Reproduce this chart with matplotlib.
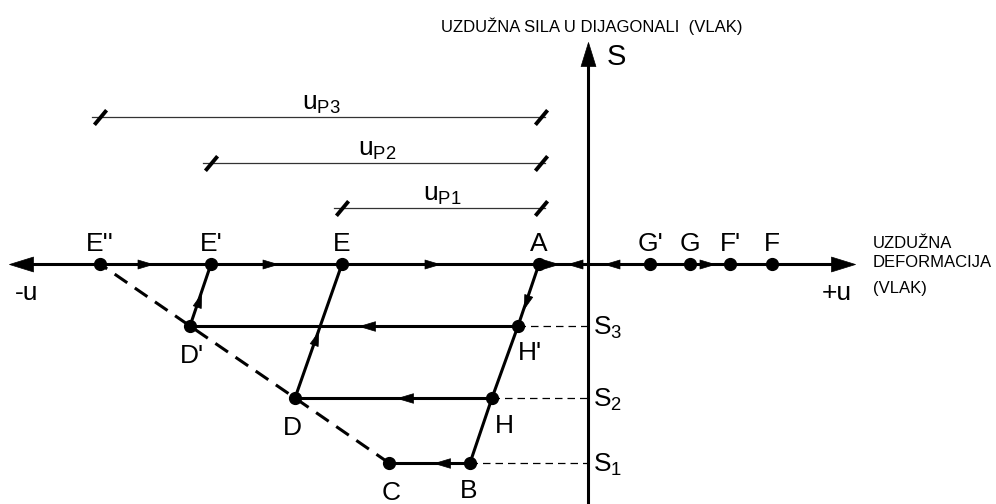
import numpy as np
import matplotlib
matplotlib.use("Agg")
import matplotlib.pyplot as plt
from matplotlib.path import Path

plt.rcParams['font.family'] = ['Liberation Sans', 'DejaVu Sans']
plt.rcParams['mathtext.fontset'] = 'custom'
plt.rcParams['mathtext.rm'] = 'Liberation Sans'
plt.rcParams['mathtext.it'] = 'Liberation Sans'

# points on the u axis (deformation), S = 0
axis_labels = ["E''", "E'", "E", "A", "G'", "G", "F'", "F"]
axis_u = [-48.8, -37.7, -24.6, -4.9, 6.2, 10.2, 14.2, 18.4]

# force levels S1, S2, S3
S_levels = [-19.9, -13.4, -6.2]
S_names = ["1", "2", "3"]

# unloading branch A -> H' -> H -> B
branch_u = [-4.9, -7.0, -9.6, -11.8]
branch_S = [0.0, -6.2, -13.4, -19.9]

# buckling envelope C -> D -> D' -> E''
env_u = [-19.9, -29.3, -39.8, -48.8]
env_S = [-19.9, -13.4, -6.2, 0.0]

# plastic elongations u_P1..u_P3 (from A to E, E', E'')
up_left = [-24.6, -37.7, -48.8]
up_right = -4.9
up_S = [5.6, 10.1, 14.7]
up_text_u = [-16.5, -23.0, -28.6]

# axis extent
u_min, u_max = -57.9, 26.7
S_min, S_max = -24.0, 22.2

fig = plt.figure(figsize=(9.96, 5.04), dpi=100)
ax = fig.add_axes([0, 0, 1, 1])
ax.set_xlim(-58.8, 40.8)
ax.set_ylim(-24.0, 26.4)
ax.axis('off')

LW = 2.2
PX = 0.1  # data units per pixel


def tri_marker(angle, w=0.65):
    verts = np.array([[1.0, 0.0], [-1.0, w], [-1.0, -w], [1.0, 0.0]])
    c, s = np.cos(np.radians(angle)), np.sin(np.radians(angle))
    rot = verts @ np.array([[c, s], [-s, c]])
    return Path(rot, [Path.MOVETO, Path.LINETO, Path.LINETO, Path.CLOSEPOLY])


def head(u, s, angle, length_px, w=0.65):
    ax.plot(u, s, marker=tri_marker(angle, w), ms=length_px / 1.389,
            color='k', mec='k', mew=0.5, ls='none', zorder=5)


def head_on(p0, p1, frac, length_px=16):
    p0, p1 = np.array(p0), np.array(p1)
    d = p1 - p0
    ang = np.degrees(np.arctan2(d[1], d[0]))
    p = p0 + frac * d
    head(p[0], p[1], ang, length_px, 0.6)


# axes
ax.plot([u_min + 2, u_max - 2], [0, 0], color='k', lw=LW, zorder=2)
ax.plot([0, 0], [S_min, S_max - 2], color='k', lw=LW, zorder=2)
L = 24
head(u_min + L * PX / 2, 0, 180, L, 0.62)
head(u_max - L * PX / 2, 0, 0, L, 0.62)
head(0, S_max - L * PX / 2, 90, L, 0.62)

# force level dashed leaders to S axis
for ub, sl in zip(branch_u[1:], branch_S[1:]):
    ax.plot([ub, 0], [sl, sl], color='k', lw=0.9, ls=(0, (6, 4)), zorder=1)

# unloading branch
ax.plot(branch_u, branch_S, color='k', lw=LW, zorder=3)

# horizontal compression paths H' -> D', H -> D, B -> C
for i in range(3):
    ax.plot([branch_u[i + 1], env_u[2 - i]], [branch_S[i + 1], env_S[2 - i]],
            color='k', lw=LW, zorder=3)

# reloading lines D -> E, D' -> E'
ax.plot([env_u[1], axis_u[2]], [env_S[1], 0], color='k', lw=LW, zorder=3)
ax.plot([env_u[2], axis_u[1]], [env_S[2], 0], color='k', lw=LW, zorder=3)

# envelope dashed
ax.plot(env_u, env_S, color='k', lw=LW, ls=(0, (5, 3)), zorder=3)

# dots
dot_u = axis_u + branch_u[1:] + env_u[:3]
dot_S = [0] * len(axis_u) + branch_S[1:] + env_S[:3]
ax.plot(dot_u, dot_S, 'o', color='k', ms=8.5, zorder=6)

# direction arrows on u axis
dir_u = [-44.3, -31.8, -15.6, -3.7, -1.3, 2.4, 11.9]
dir_ang = [0, 0, 0, 0, 180, 180, 0]
for du, da in zip(dir_u, dir_ang):
    head(du, 0, da, 15, 0.6)

# arrows along the branches
head_on((branch_u[0], branch_S[0]), (branch_u[1], branch_S[1]), 0.62)
head_on((branch_u[1], branch_S[1]), (env_u[2], env_S[2]), 0.46)
head_on((branch_u[2], branch_S[2]), (env_u[1], env_S[1]), 0.44)
head_on((branch_u[3], branch_S[3]), (env_u[0], env_S[0]), 0.35)
head_on((env_u[1], env_S[1]), (axis_u[2], 0), 0.45)
head_on((env_u[2], env_S[2]), (axis_u[1], 0), 0.42)

# plastic elongation dimension lines
slash = Path([[-1, -1.2], [1, 1.2]], [Path.MOVETO, Path.LINETO])
for ul, us, ut, n in zip(up_left, up_S, up_text_u, [1, 2, 3]):
    ax.plot([ul - 0.8, up_right + 0.6], [us, us], color='#333333', lw=0.9, zorder=2)
    ax.plot([ul, up_right + 0.2], [us, us], marker=slash, ms=10.5, mew=2.8,
            color='k', ls='none', zorder=3)
    ax.text(ut, us + 0.7, r'$\mathregular{u_{P%d}}$' % n, fontsize=19,
            ha='left', va='baseline')

FS = 19
# labels on u axis
for lab, uu in zip(axis_labels, axis_u):
    ax.text(uu, 1.3, lab, fontsize=FS, ha='center', va='baseline')

ax.text(-8.4, -16.9, "H", fontsize=FS, ha='center', va='baseline')
ax.text(-7.0, -9.6, "H'", fontsize=FS, ha='left', va='baseline')
ax.text(-11.9, -23.4, "B", fontsize=FS, ha='center', va='baseline')
ax.text(-19.7, -23.6, "C", fontsize=FS, ha='center', va='baseline')
ax.text(-29.6, -17.1, "D", fontsize=FS, ha='center', va='baseline')
ax.text(-39.6, -9.9, "D'", fontsize=FS, ha='center', va='baseline')

for sl, sn in zip(S_levels, S_names):
    ax.text(0.5, sl - 0.9, r'$\mathregular{S_%s}$' % sn, fontsize=FS,
            ha='left', va='baseline')

ax.text(1.9, 19.9, "S", fontsize=21, ha='left', va='baseline')
ax.text(-56.1, -3.6, "-u", fontsize=FS, ha='center', va='baseline')
ax.text(24.9, -3.6, "+u", fontsize=FS, ha='center', va='baseline')

narrow = ['Liberation Sans Narrow', 'Liberation Sans']
ax.text(0.4, 23.2, "UZDUŽNA SILA U DIJAGONALI  (VLAK)", fontsize=12,
        family=narrow, ha='center', va='baseline')
ax.text(28.5, 1.6, "UZDUŽNA", fontsize=12, family=narrow, ha='left', va='baseline')
ax.text(28.5, -0.3, "DEFORMACIJA", fontsize=12, family=narrow, ha='left', va='baseline')
ax.text(28.5, -2.9, "(VLAK)", fontsize=12, family=narrow, ha='left', va='baseline')

fig.savefig("out.png", dpi=100)
